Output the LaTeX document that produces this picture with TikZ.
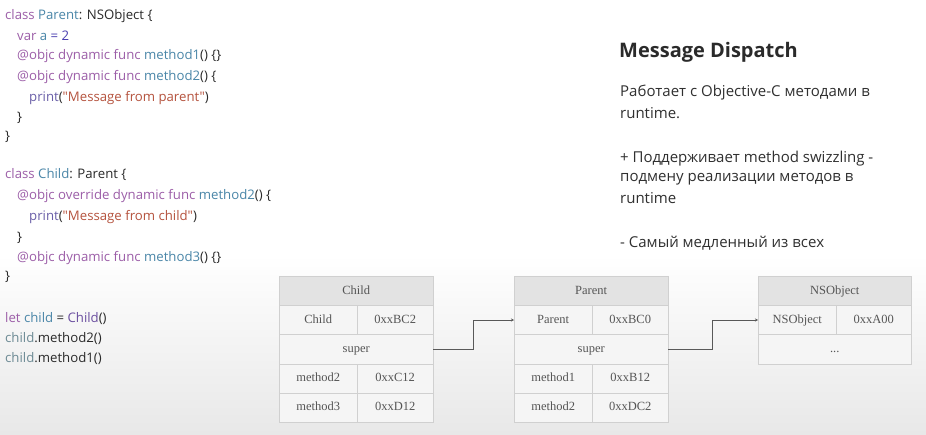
\documentclass[tikz,border=0pt]{standalone}
\usepackage{fontspec}
\setmainfont{Open Sans}
\newfontfamily\codefont{Open Sans}[Ligatures=TeXOff]
\newfontfamily\tabfont{Liberation Serif}
\usetikzlibrary{arrows.meta}
\definecolor{kw}{HTML}{9C5EA8}
\definecolor{ty}{HTML}{4A86A8}
\definecolor{num}{HTML}{4A3FB0}
\definecolor{str}{HTML}{B5533E}
\definecolor{pr}{HTML}{6A5FA8}
\definecolor{cls}{HTML}{6B4FA0}
\definecolor{tyg}{HTML}{6C8A94}
\definecolor{dk}{HTML}{2A2A2A}
\definecolor{txt}{HTML}{303030}
\definecolor{cellfill}{HTML}{F5F5F5}
\definecolor{hdrfill}{HTML}{E3E3E3}
\definecolor{cellline}{HTML}{D0D0D0}
\definecolor{celltext}{HTML}{555555}
\begin{document}
\begin{tikzpicture}[x=1pt,y=-1pt,
  code/.style={anchor=west,inner sep=0pt,font=\codefont\fontsize{13.2}{15}\selectfont,text=dk},
  body/.style={anchor=west,inner sep=0pt,font=\fontsize{15}{18}\selectfont,text=txt},
  cell/.style={draw=cellline,fill=cellfill,anchor=north west,inner sep=0pt,minimum height=29.2pt,text height=8.5pt,text depth=2pt,text=celltext,font=\tabfont\fontsize{12.5}{14}\selectfont},
  hdr/.style={cell,fill=hdrfill},
  conn/.style={draw=black!65,line width=0.6pt,-{Stealth[length=3pt,width=3pt]}}]
\useasboundingbox (0,0) rectangle (926,434);
\fill[white] (0,0) rectangle (926,434);
\shade[top color=white,bottom color=black!9] (0,255) rectangle (926,434);
% code block 1
\node[code] (l1) at (5,16) {\textcolor{kw}{class} \textcolor{ty}{Parent}: NSObject \{};
\node[code] (l2) at (17,36) {\textcolor{kw}{var} \textcolor{ty}{a} \textcolor{num}{= 2}};
\node[code] (l3) at (17,56) {\textcolor{kw}{@objc dynamic func} \textcolor{ty}{method1}() \{\}};
\node[code] (l4) at (17,77) {\textcolor{kw}{@objc dynamic func} \textcolor{ty}{method2}() \{};
\node[code] (l5) at (29,98) {\textcolor{pr}{print}(\textcolor{str}{"Message from parent"})};
\node[code] (l6) at (17,118) {\}};
\node[code] (l7) at (5,137) {\}};
% code block 2
\node[code] (m1) at (5,175) {\textcolor{kw}{class} \textcolor{ty}{Child}: Parent \{};
\node[code] (m2) at (17,196) {\textcolor{kw}{@objc override dynamic func} \textcolor{ty}{method2}() \{};
\node[code] (m3) at (29,217) {\textcolor{pr}{print}(\textcolor{str}{"Message from child"})};
\node[code] (m4) at (17,238) {\}};
\node[code] (m5) at (17,258) {\textcolor{kw}{@objc dynamic func} \textcolor{ty}{method3}() \{\}};
\node[code] (m6) at (5,277) {\}};
% code block 3
\node[code] (n1) at (5,319) {\textcolor{kw}{let} \textcolor{ty}{child} = \textcolor{cls}{Child}()};
\node[code] (n2) at (5,339) {\textcolor{tyg}{child}.method2()};
\node[code] (n3) at (5,359) {\textcolor{tyg}{child}.method1()};
% right text
\node[body,font=\fontsize{20}{24}\selectfont\bfseries,text=dk] (title) at (619,52) {Message Dispatch};
\node[body] (p1a) at (620,93) {Работает с Objective-C методами в};
\node[body] (p1b) at (620,113) {runtime.};
\node[body] (p2a) at (620,159) {+ Поддерживает method swizzling -};
\node[body] (p2b) at (620,179) {подмену реализации методов в};
\node[body] (p2c) at (620,198) {runtime};
\node[body] (p3) at (620,243) {- Самый медленный из всех};
% Child table
\node[hdr,minimum width=154pt] (ch) at (279,276) {Child};
\node[cell,minimum width=78pt] (cn) at (279,305.2) {Child};
\node[cell,minimum width=76pt] (ca) at (357,305.2) {0xxBC2};
\node[cell,minimum width=154pt] (cs) at (279,334.4) {super};
\node[cell,minimum width=78pt] (cm2) at (279,363.6) {method2};
\node[cell,minimum width=76pt] (cm2a) at (357,363.6) {0xxC12};
\node[cell,minimum width=78pt] (cm3) at (279,392.8) {method3};
\node[cell,minimum width=76pt] (cm3a) at (357,392.8) {0xxD12};
% Parent table
\node[hdr,minimum width=154pt] (ph) at (514,276) {Parent};
\node[cell,minimum width=78pt] (pn) at (514,305.2) {Parent};
\node[cell,minimum width=76pt] (pa) at (592,305.2) {0xxBC0};
\node[cell,minimum width=154pt] (ps) at (514,334.4) {super};
\node[cell,minimum width=78pt] (pm1) at (514,363.6) {method1};
\node[cell,minimum width=76pt] (pm1a) at (592,363.6) {0xxB12};
\node[cell,minimum width=78pt] (pm2) at (514,392.8) {method2};
\node[cell,minimum width=76pt] (pm2a) at (592,392.8) {0xxDC2};
% NSObject table
\node[hdr,minimum width=153pt] (nh) at (758,276) {NSObject};
\node[cell,minimum width=78pt] (nn) at (758,305.2) {NSObject};
\node[cell,minimum width=75pt] (na) at (836,305.2) {0xxA00};
\node[cell,minimum width=153pt] (ns) at (758,334.4) {...};
% connectors
\draw[conn] (cs.east) -- ++(40,0) |- (pn.west);
\draw[conn] (ps.east) -- ++(44,0) |- (nn.west);
\end{tikzpicture}
\end{document}
